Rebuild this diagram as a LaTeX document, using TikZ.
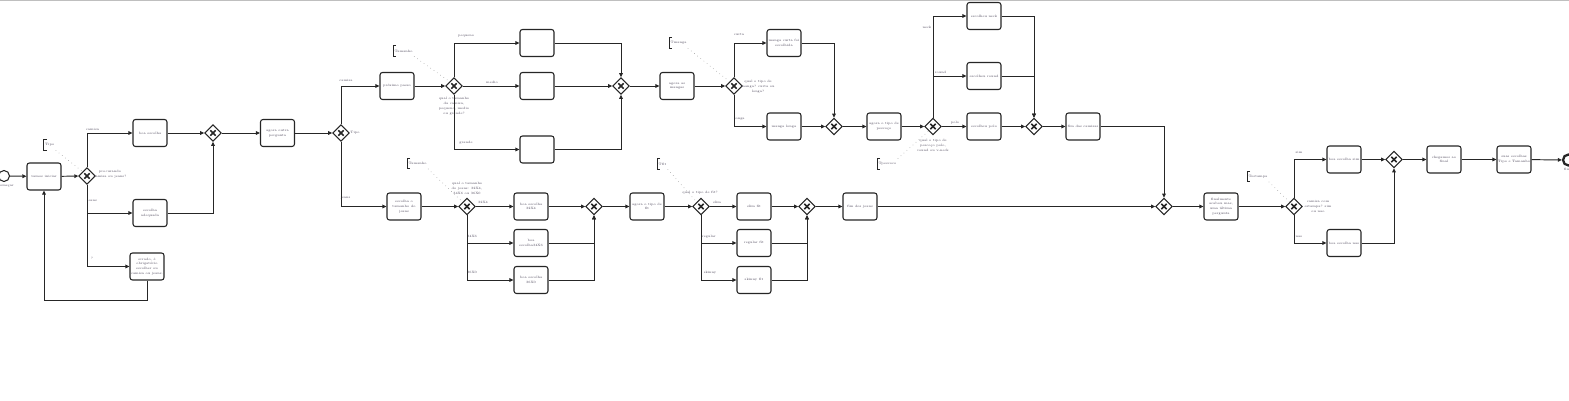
\documentclass[tikz,border=0pt]{standalone}
\usetikzlibrary{arrows.meta,shapes.geometric}
\definecolor{txt}{HTML}{4A4458}
\begin{document}
\begin{tikzpicture}[x=0.02cm,y=-0.02cm,
  flow/.style={draw=black!85,line width=0.55pt,-{Triangle[length=2.3pt,width=2.1pt]}},
  task/.style={draw=black!85,line width=0.6pt,rounded corners=1.4pt,fill=white,minimum width=0.68cm,minimum height=0.54cm,inner sep=0.3pt,align=center,font=\fontsize{1.85}{2.7}\selectfont,text=txt},
  gw/.style={draw=black!85,line width=0.6pt,diamond,fill=white,minimum width=0.33cm,minimum height=0.33cm,inner sep=0pt,
    path picture={\draw[line width=0.9pt] ([shift={(-1.5pt,-1.5pt)}]path picture bounding box.center) -- ([shift={(1.5pt,1.5pt)}]path picture bounding box.center);
                  \draw[line width=0.9pt] ([shift={(-1.5pt,1.5pt)}]path picture bounding box.center) -- ([shift={(1.5pt,-1.5pt)}]path picture bounding box.center);}},
  lbl/.style={inner sep=0pt,align=center,font=\fontsize{1.85}{2.8}\selectfont,text=txt},
  annot/.style={anchor=west,inner sep=0.6pt,minimum height=0.2cm,font=\fontsize{1.85}{2.6}\selectfont,text=txt},
  assoc/.style={draw=black!45,line width=0.3pt,dotted},
  brk/.style={draw=black!85,line width=0.5pt}
]
\useasboundingbox (0,0) rectangle (1569,401);
\draw[black!25,line width=1pt] (0,0.5) -- (1569,0.5);

% start
\node[circle,draw=black!85,line width=0.6pt,minimum size=0.22cm,inner sep=0pt] (start) at (4,176) {};
\node[lbl] (startl) at (6,186) {começar};
\node[task] (vi) at (44,176.5) {vamos iniciar};
\node[gw] (g1) at (87,176) {};
\node[lbl] (g1l) at (110,174) {procurando\\camisa ou jeans?};
\node[task] (b1) at (150,133) {boa escolha};
\node[task] (b2) at (150,213) {escolha\\adequada};
\node[task] (err) at (147,266.5) {errado, é\\obrigatório\\escolher ou\\camisa ou jeans.};
\node[gw] (m1) at (213,133) {};
\node[task] (ap) at (277.5,133) {agora outra\\pergunta};
\node[gw] (g2) at (341,133) {};
\node[lbl] (g2l) at (355,132.5) {Tipo};

% camisa branch
\node[task] (pp) at (397,86) {próximo passo};
\node[gw] (g3) at (454,86) {};
\node[lbl] (g3l) at (454,106) {qual o tamanho\\da camisa,\\pequeno, medio\\ou grande?};
\node[task] (e1) at (537,43) {};
\node[task] (e2) at (537,86) {};
\node[task] (e3) at (537,149.5) {};
\node[gw] (m3) at (621,86) {};
\node[task] (am) at (677,86) {agora as\\mangas};
\node[gw] (g4) at (734,86) {};
\node[lbl] (g4l) at (758,87) {qual o tipo de\\manga? curta ou\\longa?};
\node[task] (mc) at (784,43) {manga curta foi\\escolhida};
\node[task] (ml) at (784,126.5) {manga longa};
\node[gw] (m4) at (834,126.5) {};
\node[task] (ap2) at (884,126.5) {agora o tipo de\\pescoço};
\node[gw] (g5) at (933,126.5) {};
\node[lbl] (g5l) at (933,145) {qual o tipo de\\pescoço polo,\\round ou v-neck};
\node[task] (n1) at (984,16) {escolheu neck};
\node[task] (n2) at (984,76) {escolheu round};
\node[task] (n3) at (984,126.5) {escolheu polo};
\node[gw] (m5) at (1034,126.5) {};
\node[task] (fc) at (1083,126.5) {fim das camisas};

% jeans branch
\node[task] (ej) at (404,206.5) {escolha o\\tamanho do\\jeans};
\node[gw] (g6) at (467,206.5) {};
\node[lbl] (g6l) at (467,188.5) {qual o tamanho\\do jeans: 32X4,\\34X6 ou 36X0};
\node[task] (j1) at (531,206.5) {boa escolha\\32X4};
\node[task] (j2) at (531,243) {boa\\escolha34X6};
\node[task] (j3) at (531,280) {boa escolha\\36X0};
\node[gw] (m6) at (594,206.5) {};
\node[task] (af) at (647,206.5) {agora o tipo de\\fit};
\node[gw] (g7) at (701,206.5) {};
\node[lbl] (g7l) at (700,192.5) {qual o tipo de fit?};
\node[task] (f1) at (754,206.5) {slim fit};
\node[task] (f2) at (754,243) {regular fit};
\node[task] (f3) at (754,280) {skinny fit};
\node[gw] (m8) at (807,206.5) {};
\node[task] (fj) at (860,206.5) {fim dos jeans};

% final
\node[gw] (m7) at (1164,206.5) {};
\node[task] (fin) at (1221,206.5) {finalmente\\acabou mas,\\uma última\\pergunta};
\node[gw] (g8) at (1294,206.5) {};
\node[lbl] (g8l) at (1318,206.5) {camisa com\\estampa? sim\\ou nao};
\node[task] (s1) at (1344,159.5) {boa escolha sim};
\node[task] (s2) at (1344,243) {boa escolha nao};
\node[gw] (m9) at (1394,159.5) {};
\node[task] (ch) at (1444,159.5) {chegamos ao\\final};
\node[task] (se) at (1514,159.5) {suas escolhas\\Tipo e Tamanho};
\node[circle,draw=black!85,line width=1.3pt,minimum size=0.22cm,inner sep=0pt] (end) at (1568.5,160) {};
\node[lbl] (endl) at (1567,169.5) {fim};

% edge labels
\node[lbl] (l1) at (92.5,129) {camisa};
\node[lbl] (l2) at (92,201) {jeans};
\node[lbl] (l3) at (92,258) {?};
\node[lbl] (l4) at (346,80) {camisa};
\node[lbl] (l5) at (345.5,198) {jeans};
\node[lbl] (l6) at (466,36) {pequeno};
\node[lbl] (l7) at (492,82) {medio};
\node[lbl] (l8) at (466,143) {grande};
\node[lbl] (l9) at (739,35) {curta};
\node[lbl] (l10) at (739.5,119) {longa};
\node[lbl] (l11) at (927,27) {neck};
\node[lbl] (l12) at (940.5,72) {round};
\node[lbl] (l13) at (955,122.5) {polo};
\node[lbl] (l14) at (483,202) {32X4};
\node[lbl] (l15) at (472,236.5) {34X6};
\node[lbl] (l16) at (472,272.5) {36X0};
\node[lbl] (l17) at (717,202) {slim};
\node[lbl] (l18) at (709,236.5) {regular};
\node[lbl] (l19) at (710,272.5) {skinny};
\node[lbl] (l20) at (1299,152.5) {sim};
\node[lbl] (l21) at (1299,236.5) {nao};

% annotations
\node[annot] (a1) at (43.7,145) {Tipo};
\node[annot] (a2) at (393.3,51) {Tamanho};
\node[annot] (a3) at (669.3,43) {Tmanga};
\node[annot] (a4) at (877.3,164) {Tpescoco};
\node[annot] (a5) at (407.3,163.5) {Tamanho};
\node[annot] (a6) at (657.3,164) {Tfit};
\node[annot] (a7) at (1247.3,176.5) {Testampa};
\foreach \a in {a1,a2,a3,a4,a5,a6,a7}{
  \draw[brk] ([xshift=1.6pt]\a.north west) -| (\a.south west) -- ++(1.6pt,0);
}
\draw[assoc] (a1.south east) -- (g1.north west);
\draw[assoc] (a2.south east) -- (g3.north west);
\draw[assoc] (a3.south east) -- (g4.north west);
\draw[assoc] (a4.north east) -- (g5.south west);
\draw[assoc] (a5.south east) -- (g6.north west);
\draw[assoc] (a6.south east) -- (g7.north west);
\draw[assoc] (a7.south east) -- (g8.north west);

% flows
\coordinate (lb) at (44,300);
\draw[flow] (start) -- (vi);
\draw[flow] (vi) -- (g1);
\draw[flow] (g1.north) |- (b1.west);
\draw[flow] (g1.south) |- (b2.west);
\draw[flow] (g1.south) |- (err.west);
\draw[flow] (err.south) |- (lb) -- (vi.south);
\draw[flow] (b1) -- (m1);
\draw[flow] (b2.east) -| (m1.south);
\draw[flow] (m1) -- (ap);
\draw[flow] (ap) -- (g2);
\draw[flow] (g2.north) |- (pp.west);
\draw[flow] (g2.south) |- (ej.west);
\draw[flow] (pp) -- (g3);
\draw[flow] (g3.north) |- (e1.west);
\draw[flow] (g3) -- (e2);
\draw[flow] (g3.south) |- (e3.west);
\draw[flow] (e1.east) -| (m3.north);
\draw[flow] (e2) -- (m3);
\draw[flow] (e3.east) -| (m3.south);
\draw[flow] (m3) -- (am);
\draw[flow] (am) -- (g4);
\draw[flow] (g4.north) |- (mc.west);
\draw[flow] (g4.south) |- (ml.west);
\draw[flow] (mc.east) -| (m4.north);
\draw[flow] (ml) -- (m4);
\draw[flow] (m4) -- (ap2);
\draw[flow] (ap2) -- (g5);
\draw[flow] (g5.north) |- (n1.west);
\draw[flow] (g5.north) |- (n2.west);
\draw[flow] (g5) -- (n3);
\draw[flow] (n1.east) -| (m5.north);
\draw[flow] (n2.east) -| (m5.north);
\draw[flow] (n3) -- (m5);
\draw[flow] (m5) -- (fc);
\draw[flow] (fc.east) -| (m7.north);
\draw[flow] (ej) -- (g6);
\draw[flow] (g6) -- (j1);
\draw[flow] (g6.south) |- (j2.west);
\draw[flow] (g6.south) |- (j3.west);
\draw[flow] (j1) -- (m6);
\draw[flow] (j2.east) -| (m6.south);
\draw[flow] (j3.east) -| (m6.south);
\draw[flow] (m6) -- (af);
\draw[flow] (af) -- (g7);
\draw[flow] (g7) -- (f1);
\draw[flow] (g7.south) |- (f2.west);
\draw[flow] (g7.south) |- (f3.west);
\draw[flow] (f1) -- (m8);
\draw[flow] (f2.east) -| (m8.south);
\draw[flow] (f3.east) -| (m8.south);
\draw[flow] (m8) -- (fj);
\draw[flow] (fj) -- (m7);
\draw[flow] (m7) -- (fin);
\draw[flow] (fin) -- (g8);
\draw[flow] (g8.north) |- (s1.west);
\draw[flow] (g8.south) |- (s2.west);
\draw[flow] (s1) -- (m9);
\draw[flow] (s2.east) -| (m9.south);
\draw[flow] (m9) -- (ch);
\draw[flow] (ch) -- (se);
\draw[flow] (se) -- (end);
\end{tikzpicture}
\end{document}
